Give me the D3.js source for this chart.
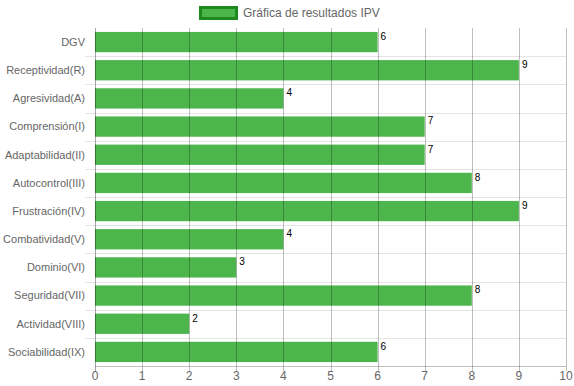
<!DOCTYPE html>
<html lang="es">
<head>
    <meta charset="UTF-8">
    <title>Gráfica de resultados IPV</title>
    <script src="https://d3js.org/d3.v7.min.js"></script>
    <style>
        body { margin: 0; background: #fff; }
        text { font-family: "Liberation Sans", Arial, sans-serif; }
    </style>
</head>
<body>
    <svg width="574" height="386"></svg>
    <script>
        const categories = ["DGV", "Receptividad(R)", "Agresividad(A)", "Comprensión(I)", "Adaptabilidad(II)",
            "Autocontrol(III)", "Frustración(IV)", "Combatividad(V)", "Dominio(VI)", "Seguridad(VII)",
            "Actividad(VIII)", "Sociabilidad(IX)"];
        const values = [6, 9, 4, 7, 7, 8, 9, 4, 3, 8, 2, 6];
        const xTicks = [0, 1, 2, 3, 4, 5, 6, 7, 8, 9, 10];
        const seriesName = "Gráfica de resultados IPV";

        const margin = { top: 28, right: 8, bottom: 20, left: 95 };
        const width = 574 - margin.left - margin.right;
        const height = 386 - margin.top - margin.bottom;

        const svg = d3.select("svg");
        const g = svg.append("g").attr("transform", `translate(${margin.left},${margin.top})`);

        const x = d3.scaleLinear().domain([0, 10]).range([0, width]);
        const y = d3.scaleBand().domain(categories).range([0, height]);
        const barH = y.bandwidth() * 0.72;

        // horizontal grid lines at category edges (with tick marks to the left)
        const edges = d3.range(categories.length + 1).map(i => i * y.step());
        g.selectAll(".hgrid").data(edges.slice(1, -1)).enter().append("line")
            .attr("x1", -10).attr("x2", width)
            .attr("y1", d => Math.round(d) + 0.5).attr("y2", d => Math.round(d) + 0.5)
            .attr("stroke", "rgba(0,0,0,0.1)");

        // bars
        g.selectAll(".bar").data(values).enter().append("rect")
            .attr("x", 0)
            .attr("y", (d, i) => y(categories[i]) + (y.bandwidth() - barH) / 2)
            .attr("width", d => x(d))
            .attr("height", barH)
            .attr("fill", "#4cb54c");

        // vertical grid lines, drawn over the bars
        g.selectAll(".vgrid").data(xTicks).enter().append("line")
            .attr("x1", d => Math.round(x(d)) + 0.5).attr("x2", d => Math.round(x(d)) + 0.5)
            .attr("y1", 0).attr("y2", height + 5)
            .attr("stroke", d => d === 0 ? "rgba(0,0,0,0.35)" : "rgba(0,0,0,0.25)");

        // bottom axis line
        g.append("line")
            .attr("x1", 0).attr("x2", width)
            .attr("y1", Math.round(height) + 0.5).attr("y2", Math.round(height) + 0.5)
            .attr("stroke", "rgba(0,0,0,0.25)");

        // x tick labels
        g.selectAll(".xlab").data(xTicks).enter().append("text")
            .attr("x", d => x(d))
            .attr("y", height + 14)
            .attr("text-anchor", "middle")
            .attr("font-size", 12)
            .attr("fill", "#666")
            .text(d => d);

        // y tick labels
        g.selectAll(".ylab").data(categories).enter().append("text")
            .attr("x", -10)
            .attr("y", d => y(d) + y.bandwidth() / 2)
            .attr("dy", "0.35em")
            .attr("text-anchor", "end")
            .attr("font-size", 11)
            .attr("fill", "#666")
            .text(d => d);

        // value labels
        g.selectAll(".val").data(values).enter().append("text")
            .attr("x", d => x(d) + 3)
            .attr("y", (d, i) => y(categories[i]) + (y.bandwidth() - barH) / 2 + 8)
            .attr("font-size", 10)
            .attr("fill", "#000")
            .text(d => d);

        // legend
        const legend = svg.append("g");
        legend.append("rect")
            .attr("x", 200.5).attr("y", 7.5)
            .attr("width", 36).attr("height", 11)
            .attr("fill", "#4cb54c")
            .attr("stroke", "#1e8a1e")
            .attr("stroke-width", 3);
        legend.append("text")
            .attr("x", 243).attr("y", 13)
            .attr("dy", "0.35em")
            .attr("font-size", 12)
            .attr("fill", "#666")
            .text(seriesName);
    </script>
</body>
</html>
